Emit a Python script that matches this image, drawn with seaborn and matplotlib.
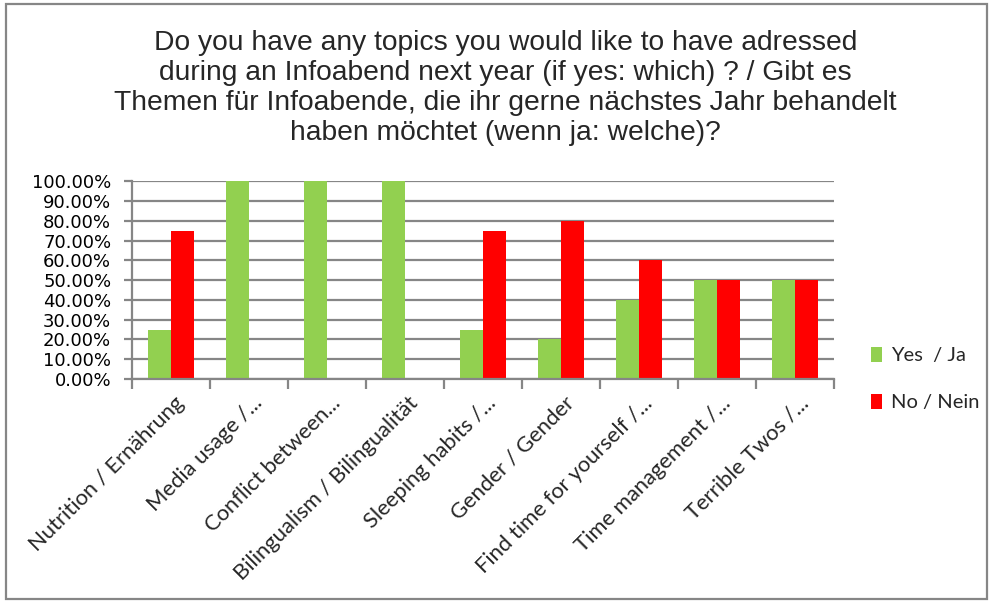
import matplotlib
matplotlib.use("Agg")
import matplotlib.pyplot as plt
import seaborn as sns
import pandas as pd
from matplotlib.ticker import FuncFormatter, MultipleLocator
from matplotlib.patches import Rectangle
import matplotlib.transforms as mtransforms

categories = ["Nutrition / Ernährung", "Media usage /...", "Conflict between...",
              "Bilingualism / Bilingualität", "Sleeping habits /...", "Gender / Gender",
              "Find time for yourself /...", "Time management /...", "Terrible Twos /..."]
yes_values = [0.25, 1.00, 1.00, 1.00, 0.25, 0.20, 0.40, 0.50, 0.50]
no_values = [0.75, 0.00, 0.00, 0.00, 0.75, 0.80, 0.60, 0.50, 0.50]
series_names = ["Yes  / Ja", "No / Nein"]
colors = ["#92D050", "#FF0000"]
title = ("Do you have any topics you would like to have adressed\n"
         "during an Infoabend next year (if yes: which) ? / Gibt es\n"
         "Themen für Infoabende, die ihr gerne nächstes Jahr behandelt\n"
         "haben möchtet (wenn ja: welche)?")

df = pd.DataFrame({
    "topic": categories * 2,
    "value": yes_values + no_values,
    "series": [series_names[0]] * len(categories) + [series_names[1]] * len(categories),
})

sns.set_style("white")
plt.rcParams["font.family"] = ["Liberation Sans", "DejaVu Sans"]

fig = plt.figure(figsize=(9.93, 6.03), dpi=100)
ax = fig.add_axes([0.133, 0.3715, 0.707, 0.328])

sns.barplot(data=df, x="topic", y="value", hue="series", palette=colors,
            width=0.58, saturation=1, ax=ax, legend=True, linewidth=0)

ax.set_ylim(0, 1.0)
ax.set_xlim(-0.5, len(categories) - 0.5)
ax.yaxis.set_major_locator(MultipleLocator(0.1))
ax.yaxis.set_major_formatter(FuncFormatter(lambda v, p: f"{v*100:.2f}%"))
ax.set_xlabel("")
ax.set_ylabel("")

grid_col = "#868686"
ax.grid(axis="y", color=grid_col, linewidth=1.6)
ax.set_axisbelow(True)
for s in ["top", "right"]:
    ax.spines[s].set_visible(False)
for s in ["left", "bottom"]:
    ax.spines[s].set_color(grid_col)
    ax.spines[s].set_linewidth(1.6)

ax.tick_params(axis="y", length=6, width=1.6, color=grid_col, labelsize=13.0,
               labelcolor="#000000", pad=9, left=True)
for lbl in ax.get_yticklabels():
    lbl.set_fontfamily("DejaVu Sans")

# category labels
ax.set_xticks([i for i in range(len(categories))])
ax.tick_params(axis="x", length=0, pad=10)
ax.set_xticklabels(categories, rotation=45, ha="right", rotation_mode="anchor",
                   fontsize=15.8, fontfamily="Lato")
shift = mtransforms.ScaledTranslation(3 / 100, 0, fig.dpi_scale_trans)
for lbl in ax.get_xticklabels():
    lbl.set_transform(lbl.get_transform() + shift)
# tick marks at category boundaries
ax.set_xticks([i - 0.5 for i in range(len(categories) + 1)], minor=True)
ax.tick_params(axis="x", which="minor", length=7, width=1.6, color=grid_col, bottom=True)

leg = ax.legend(loc="upper left", bbox_to_anchor=(1.027, 0.255), frameon=False,
                handlelength=0.55, handleheight=0.8, handletextpad=0.45,
                labelspacing=1.45, prop={"family": "Lato", "size": 14.5})

fig.text(0.509, 0.951, title, ha="center", va="top", fontsize=20.3,
         linespacing=1.2, fontfamily="Liberation Sans")

fig.patches.append(Rectangle((0.006, 0.006), 0.988, 0.988, transform=fig.transFigure,
                             fill=False, edgecolor="#868686", linewidth=1.6))

fig.savefig("out.png", dpi=100)
